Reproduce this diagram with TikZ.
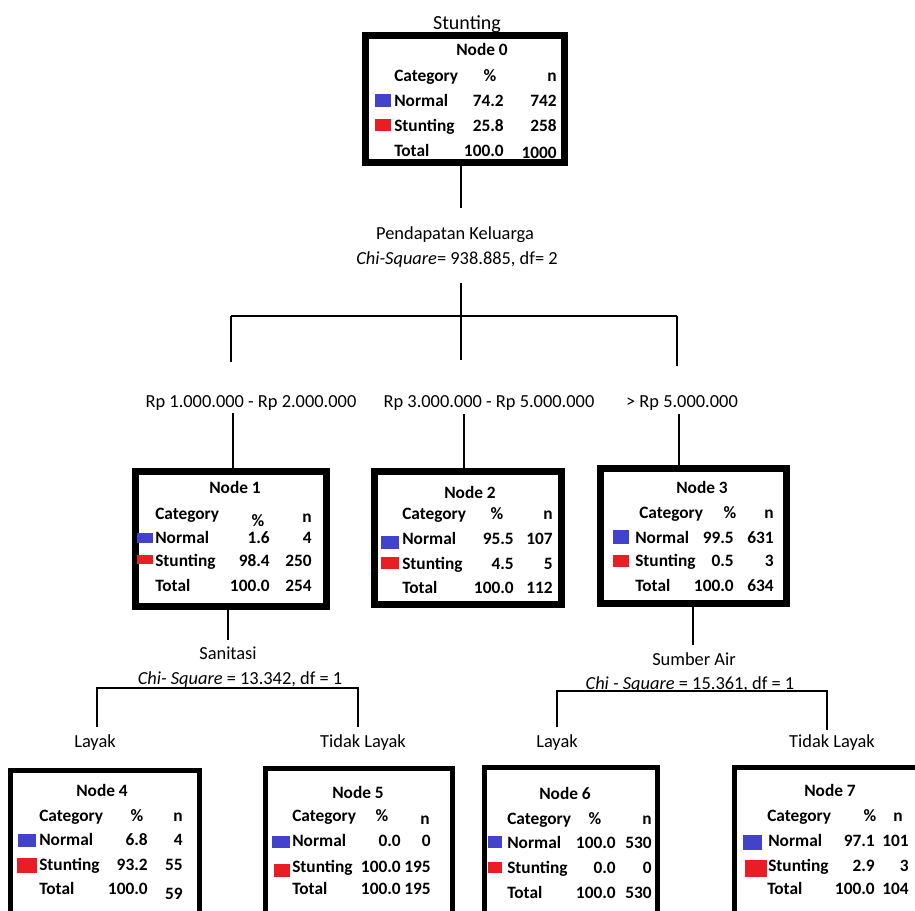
\documentclass[tikz,border=0pt]{standalone}
\usepackage{fontspec}
\setmainfont{Carlito}
\definecolor{sqblue}{RGB}{66,66,204}
\definecolor{sqred}{RGB}{234,28,36}
\newcommand\trow[8]{%
  \node[tl] (#1l) at (#3,#2) {#4};
  \node[tr] (#1p) at (#5,#2) {#6};
  \node[tr] (#1n) at (#7,#2) {#8};}
\newcommand\tsq[6]{% name, color, x1, y1, x2, y2
  \path[fill=#2] (#3,#4) rectangle (#5,#6) coordinate (#1);}
\begin{document}
\begin{tikzpicture}[x=0.75pt,y=-0.75pt,
  box/.style={draw=black, line width=5.25pt, inner sep=0pt},
  boxb/.style={draw=black, line width=3.75pt, inner sep=0pt},
  t/.style={inner sep=0pt, text height=0.72em, text depth=0.2em, yshift=-2pt, font=\fontsize{13}{15}\selectfont\bfseries},
  tl/.style={t, anchor=west},
  tr/.style={t, anchor=east},
  tc/.style={t, anchor=center},
  lab/.style={inner sep=0pt, yshift=-2pt, font=\fontsize{13.8}{16}\selectfont},
  conn/.style={draw=black, line width=1.1pt}]
\useasboundingbox (0,0) rectangle (915,911);
\fill[white] (0,0) rectangle (915,911);

% ---------- boxes ----------
\node[box, minimum width=149.25pt, minimum height=95.25pt] (n0) at (465,99) {};
\node[box, minimum width=143.25pt, minimum height=101.25pt] (n1) at (230.5,538.5) {};
\node[box, minimum width=140.25pt, minimum height=99.75pt] (n2) at (468,537.5) {};
\node[box, minimum width=139.5pt, minimum height=101.6pt] (n3) at (693,535.75) {};
\node[boxb, minimum width=141.4pt, minimum height=120pt] (n4) at (105.25,850) {};
\node[boxb, minimum width=139.9pt, minimum height=121.5pt] (n5) at (358.75,849) {};
\node[boxb, minimum width=130.1pt, minimum height=121.5pt] (n6) at (571.25,848.75) {};
\node[boxb, minimum width=138.75pt, minimum height=121.5pt] (n7) at (827,848.5) {};

% ---------- labels ----------
\node[lab, font=\fontsize{15}{17}\selectfont] (title) at (467,22) {Stunting};
\node[lab] (pk) at (455,232) {Pendapatan Keluarga};
\node[lab] (pkchi) at (457,257) {\textit{Chi-Square}= 938.885, df= 2};
\node[lab] (rp1) at (251,400) {Rp 1.000.000 - Rp 2.000.000};
\node[lab] (rp2) at (489,400) {Rp 3.000.000 - Rp 5.000.000};
\node[lab] (rp3) at (682,400) {> Rp 5.000.000};
\node[lab] (san) at (228,651) {Sanitasi};
\node[lab] (sanchi) at (240,677) {\textit{Chi- Square} = 13.342, df = 1};
\node[lab] (lay1) at (95,740) {Layak};
\node[lab] (tlay1) at (363,740) {Tidak Layak};
\node[lab] (sa) at (694,657) {Sumber Air};
\node[lab] (sachi) at (690,682) {\textit{Chi - Square} = 15.361, df = 1};
\node[lab] (lay2) at (557,740) {Layak};
\node[lab] (tlay2) at (832,740) {Tidak Layak};

% ---------- connectors ----------
\coordinate (a0) at (461,208);
\draw[conn] (n0.south -| a0) -- (a0);
\coordinate (b0) at (461,283);
\coordinate (bm) at (461,316);
\coordinate (b1) at (231,316);
\coordinate (b3) at (677,316);
\draw[conn] (b0) -- (461,360);
\draw[conn] (b1) -- (b3);
\draw[conn] (b1) -- (231,362);
\draw[conn] (b3) -- (677,366);
\coordinate (c1) at (233,413);
\coordinate (c2) at (464,414);
\coordinate (c3) at (679,414);
\draw[conn] (c1) -- (c1 |- n1.north);
\draw[conn] (c2) -- (c2 |- n2.north);
\draw[conn] (c3) -- (c3 |- n3.north);
\coordinate (d1) at (228,640);
\draw[conn] (n1.south -| d1) -- (d1);
\coordinate (e1) at (97,688);
\coordinate (e2) at (358,688);
\draw[conn] (97,727) -- (e1) -- (e2) -- (358,727);
\coordinate (d3) at (693,645);
\draw[conn] (n3.south -| d3) -- (d3);
\coordinate (f1) at (557,691);
\coordinate (f2) at (827,691);
\draw[conn] (557,727) -- (f1) -- (f2) -- (827,730);

% ---------- Node 0 ----------
\node[tc] (n0h) at (482,49) {Node 0};
\node[tl] (n0c) at (394,75) {Category};
\node[tc] (n0pc) at (490,75) {\%};
\node[tr] (n0nc) at (557,75) {n};
\trow{n0a}{100}{394}{Normal}{504}{74.2}{557}{742}
\trow{n0b}{125}{394}{Stunting}{504}{25.8}{557}{258}
\node[tl] (n0cl) at (394,150) {Total};
\node[tr] (n0cp) at (504,150) {100.0};
\node[tr] (n0cn) at (557,152) {1000};
\tsq{s0a}{sqblue}{375}{94}{391}{107}
\tsq{s0b}{sqred}{375}{119}{391}{131}

% ---------- Node 1 ----------
\node[tc] (n1h) at (235,487) {Node 1};
\node[tl] (n1c) at (155,513) {Category};
\node[tc] (n1pc) at (258,520) {\%};
\node[tr] (n1nc) at (312,516) {n};
\trow{n1a}{537}{155}{Normal}{270}{1.6}{312}{4}
\trow{n1b}{560}{155}{Stunting}{270}{98.4}{312}{250}
\trow{n1c}{585}{155}{Total}{270}{100.0}{312}{254}
\tsq{s1a}{sqblue}{137}{533}{153}{543}
\tsq{s1b}{sqred}{137}{555}{153}{564}

% ---------- Node 2 ----------
\node[tc] (n2h) at (470,492) {Node 2};
\node[tl] (n2c) at (402,513) {Category};
\node[tc] (n2pc) at (497,513) {\%};
\node[tr] (n2nc) at (553,513) {n};
\trow{n2a}{538}{402}{Normal}{514}{95.5}{553}{107}
\trow{n2b}{563}{402}{Stunting}{514}{4.5}{553}{5}
\trow{n2c}{587}{402}{Total}{514}{100.0}{553}{112}
\tsq{s2a}{sqblue}{381}{536}{399}{549}
\tsq{s2b}{sqred}{381}{557}{399}{569}

% ---------- Node 3 ----------
\node[tc] (n3h) at (702,487) {Node 3};
\node[tl] (n3c) at (639,512) {Category};
\node[tc] (n3pc) at (730,512) {\%};
\node[tr] (n3nc) at (774,512) {n};
\trow{n3a}{537}{635}{Normal}{734}{99.5}{774}{631}
\trow{n3b}{560}{635}{Stunting}{734}{0.5}{774}{3}
\trow{n3c}{585}{635}{Total}{734}{100.0}{774}{634}
\tsq{s3a}{sqblue}{613}{530}{629}{544}
\tsq{s3b}{sqred}{613}{555}{629}{567}

% ---------- Node 4 ----------
\node[tc] (n4h) at (102,790) {Node 4};
\node[tl] (n4c) at (39,815) {Category};
\node[tc] (n4pc) at (137,815) {\%};
\node[tr] (n4nc) at (183,815) {n};
\trow{n4a}{839}{39}{Normal}{148}{6.8}{183}{4}
\trow{n4b}{864}{39}{Stunting}{148}{93.2}{183}{55}
\node[tl] (n4cl) at (39,888) {Total};
\node[tr] (n4cp) at (148,888) {100.0};
\node[tr] (n4cn) at (183,893) {59};
\tsq{s4a}{sqblue}{18}{834}{36}{847}
\tsq{s4b}{sqred}{17}{858}{37}{873}

% ---------- Node 5 ----------
\node[tc] (n5h) at (358,792) {Node 5};
\node[tl] (n5c) at (292,815) {Category};
\node[tc] (n5pc) at (382,815) {\%};
\node[tr] (n5nc) at (430,818) {n};
\trow{n5a}{840}{292}{Normal}{401}{0.0}{431}{0}
\trow{n5b}{866}{292}{Stunting}{401}{100.0}{431}{195}
\trow{n5c}{888}{292}{Total}{401}{100.0}{431}{195}
\tsq{s5a}{sqblue}{272}{836}{290}{848}
\tsq{s5b}{sqred}{274}{864}{290}{877}

% ---------- Node 6 ----------
\node[tc] (n6h) at (565,793) {Node 6};
\node[tl] (n6c) at (507,818) {Category};
\node[tc] (n6pc) at (595,818) {\%};
\node[tr] (n6nc) at (652,818) {n};
\trow{n6a}{842}{507}{Normal}{616}{100.0}{652}{530}
\trow{n6b}{867}{507}{Stunting}{616}{0.0}{652}{0}
\trow{n6c}{892}{507}{Total}{616}{100.0}{652}{530}
\tsq{s6a}{sqblue}{488}{836}{502}{848}
\tsq{s6b}{sqred}{488}{862}{502}{873}

% ---------- Node 7 ----------
\node[tc] (n7h) at (830,790) {Node 7};
\node[tl] (n7c) at (767,815) {Category};
\node[tc] (n7pc) at (870,815) {\%};
\node[tc] (n7nc) at (898,815) {n};
\tsq{s7a}{sqblue}{743}{835}{762}{850}
\tsq{s7b}{sqred}{745}{860}{767}{877}
\trow{n7a}{840}{768}{Normal}{875}{97.1}{909}{101}
\trow{n7b}{865}{768}{Stunting}{875}{2.9}{909}{3}
\trow{n7c}{888}{767}{Total}{875}{100.0}{909}{104}
\end{tikzpicture}
\end{document}
